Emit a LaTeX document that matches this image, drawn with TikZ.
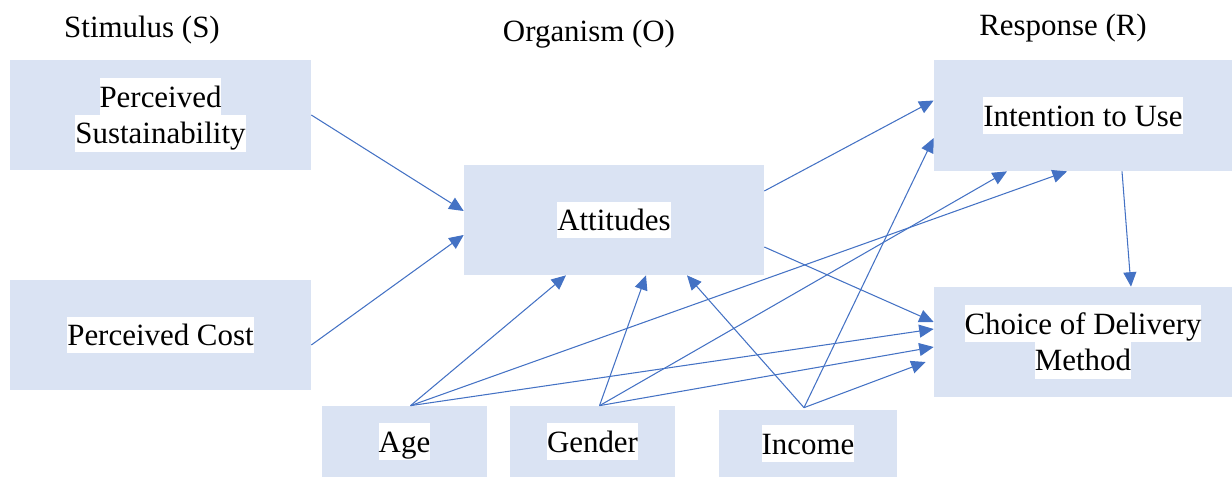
\documentclass[tikz,border=0pt]{standalone}
\usepackage{fontspec}
\setmainfont{Liberation Serif}
\usepackage{tikz}
\usetikzlibrary{arrows.meta,calc}
\definecolor{boxblue}{HTML}{DAE3F3}
\definecolor{arrowblue}{HTML}{4472C4}
\newcommand{\hilite}[1]{{\setlength{\fboxsep}{0pt}\colorbox{white}{\rule[-4.5pt]{0pt}{21pt}#1}}}
\tikzstyle{line} = [draw=arrowblue, line width=0.6pt, -{Triangle[length=0.29cm,width=0.26cm]}]
\tikzstyle{block} = [rectangle, fill=boxblue, text centered, align=center, inner sep=0pt, minimum width=6cm, minimum height=2.2cm]
\tikzstyle{factor} = [block, minimum width=3.3cm, minimum height=1.42cm]
\tikzstyle{head} = [inner sep=0pt]

\begin{document}
\begin{tikzpicture}[x=0.02cm, y=-0.02cm, font=\fontsize{17.6}{21}\selectfont]
    \useasboundingbox (0,0) rectangle (1232,477);
    \node[head] (stim) at (142,30) {Stimulus (S)};
    \node[head] (orgm) at (589,34) {Organism (O)};
    \node[head] (resp) at (1063,28) {Response (R)};
    \node[block, minimum width=6.02cm] (sus) at (160.5,115) {\hilite{Perceived}\\\hilite{Sustainability}};
    \node[block, minimum width=6.02cm] (cost) at (160.5,335) {\hilite{Perceived Cost}};
    \node[block] (att) at (614,220) {\hilite{Attitudes}};
    \node[block, minimum width=5.96cm, minimum height=2.22cm] (int) at (1083,115.5) {\hilite{Intention to Use}};
    \node[block, minimum width=5.96cm] (cho) at (1083,342) {\hilite{Choice of Delivery}\\\hilite{Method}};
    \node[factor] (age) at (404.5,441.5) {\hilite{Age}};
    \node[factor] (gen) at (592.5,441.5) {\hilite{Gender}};
    \node[factor, minimum width=3.56cm, minimum height=1.34cm] (inc) at (808,443.5) {\hilite{Income}};
    % stimulus -> organism -> response
    \path[line] (sus.east) -- ($(att.west)+(0,-9)$);
    \path[line] ($(cost.east)+(0,10)$) -- ($(att.west)+(0,15)$);
    \path[line] ($(att.east)+(0,-29)$) -- ($(int.west)+(0,-15)$);
    \path[line] ($(att.east)+(0,27)$) -- ($(cho.west)+(0,-20)$);
    \path[line] ($(int.south)+(39,0)$) -- ($(cho.north)+(48,0)$);
    % age
    \path[line] ($(age.north)+(6,0)$) -- ($(att.south)+(-48,0)$);
    \path[line] ($(age.north)+(6,0)$) -- ($(int.south)+(-16,0)$);
    \path[line] ($(age.north)+(6,0)$) -- ($(cho.west)+(0,-13)$);
    % gender
    \path[line] ($(gen.north)+(7,0)$) -- ($(att.south)+(32,0)$);
    \path[line] ($(gen.north)+(7,0)$) -- ($(int.south)+(-76,0)$);
    \path[line] ($(gen.north)+(7,0)$) -- ($(cho.west)+(0,5)$);
    % income
    \path[line] ($(inc.north)+(-4,-2)$) -- ($(att.south)+(73,0)$);
    \path[line] ($(inc.north)+(-4,-2)$) -- ($(int.west)+(0,22.5)$);
    \path[line] ($(inc.north)+(-4,-2)$) -- ($(cho.west)+(-8,20)$);
\end{tikzpicture}
\end{document}
